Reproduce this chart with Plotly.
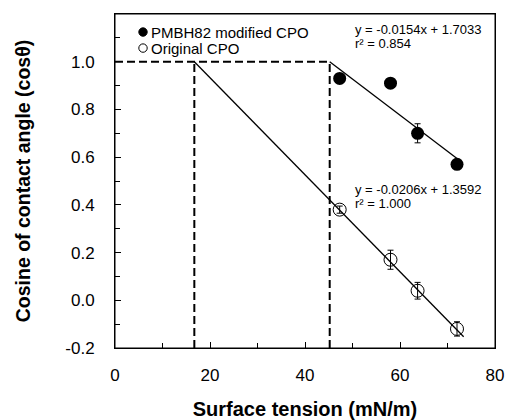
import plotly.graph_objects as go

# Data
tension = [47.3, 58.0, 63.7, 72.0]
cos_mod = [0.93, 0.91, 0.70, 0.57]
err_mod = [0.02, 0.015, 0.04, 0.015]
cos_orig = [0.38, 0.17, 0.04, -0.12]
err_orig = [0.015, 0.04, 0.035, 0.03]

slope_mod, icpt_mod = -0.0154, 1.7033
slope_orig, icpt_orig = -0.0206, 1.3592
gamma_c_mod = 45.2
gamma_c_orig = 16.7
fit_end_mod = 72.0
fit_end_orig = 73.4

series_names = ["PMBH82 modified CPO", "Original CPO"]
eq_mod = ["y = -0.0154x + 1.7033", "r\u00b2 = 0.854"]
eq_orig = ["y = -0.0206x + 1.3592", "r\u00b2 = 1.000"]

FONT = "Arial, Liberation Sans, Helvetica, sans-serif"

fig = go.Figure()

dash_style = dict(color="black", width=2, dash="8px,4px")
fig.add_trace(go.Scatter(x=[0, gamma_c_mod], y=[1.0, 1.0], mode="lines",
                         line=dash_style, showlegend=False, hoverinfo="skip"))
for gc in [gamma_c_orig, gamma_c_mod]:
    fig.add_trace(go.Scatter(x=[gc, gc], y=[-0.2, 1.0], mode="lines",
                             line=dash_style, showlegend=False, hoverinfo="skip"))

# fit lines
fig.add_trace(go.Scatter(x=[gamma_c_mod, fit_end_mod],
                         y=[1.0, slope_mod * fit_end_mod + icpt_mod],
                         mode="lines", line=dict(color="black", width=1.3), showlegend=False))
fig.add_trace(go.Scatter(x=[gamma_c_orig, fit_end_orig],
                         y=[1.0, slope_orig * fit_end_orig + icpt_orig],
                         mode="lines", line=dict(color="black", width=1.3), showlegend=False))

# data points
fig.add_trace(go.Scatter(x=tension, y=cos_mod, mode="markers", name=series_names[0],
                         marker=dict(symbol="circle", size=13, color="black"),
                         error_y=dict(type="data", array=err_mod, color="black", thickness=1, width=3),
                         showlegend=False))
fig.add_trace(go.Scatter(x=tension, y=cos_orig, mode="markers", name=series_names[1],
                         marker=dict(symbol="circle-open", size=13, color="black", line=dict(width=1)),
                         error_y=dict(type="data", array=err_orig, color="black", thickness=1, width=3),
                         showlegend=False))

# equations
for txt, yy in [(eq_mod[0], 1.137), (eq_mod[1], 1.078), (eq_orig[0], 0.466), (eq_orig[1], 0.404)]:
    fig.add_annotation(x=50.0, y=yy, xref="x", yref="y", text=txt, showarrow=False,
                       xanchor="left", yanchor="middle", font=dict(size=13, color="black", family=FONT))

# manual legend
leg_rows = [(0.946, "black"), (0.898, "white")]
for (py, fillc), name in zip(leg_rows, series_names):
    fig.add_shape(type="circle", xref="paper", yref="paper", xsizemode="pixel", ysizemode="pixel",
                  xanchor=0.0737, yanchor=py, x0=-4.2, x1=4.2, y0=-4.2, y1=4.2,
                  fillcolor=fillc, line=dict(color="black", width=1))
    fig.add_annotation(x=0.0895, y=py, xref="paper", yref="paper", text=name, showarrow=False,
                       xanchor="left", yanchor="middle", font=dict(size=15, color="black", family=FONT))

# plot frame
fig.add_shape(type="rect", xref="paper", yref="paper", x0=0, x1=1, y0=0, y1=1,
              line=dict(color="black", width=1), fillcolor="rgba(0,0,0,0)", layer="above")

axis_common = dict(showgrid=False, zeroline=False, showline=True, linecolor="black", linewidth=1,
                   mirror=True, ticks="inside", ticklen=6, tickcolor="black",
                   tickfont=dict(size=17, color="black", family=FONT))

fig.update_xaxes(range=[0, 80], tick0=0, dtick=20, ticklabelstandoff=12,
                 minor=dict(ticks="inside", ticklen=5, dtick=10, tickcolor="black"),
                 title=dict(text="<b>Surface tension (mN/m)</b>", font=dict(size=20, color="black", family=FONT), standoff=18),
                 **axis_common)
fig.update_yaxes(range=[-0.2, 1.2], tickvals=[-0.2, 0, 0.2, 0.4, 0.6, 0.8, 1.0],
                 ticktext=["-0.2", "0.0", "0.2", "0.4", "0.6", "0.8", "1.0"], ticklabelstandoff=16,
                 minor=dict(ticks="inside", ticklen=5, tickvals=[-0.1, 0.1, 0.3, 0.5, 0.7, 0.9, 1.1], tickcolor="black"),
                 title=dict(text="<b>Cosine of contact angle (cos\u03b8)</b>", font=dict(size=19.5, color="black", family=FONT), standoff=29),
                 **axis_common)

fig.update_layout(width=506, height=420, margin=dict(l=115, r=11, t=14, b=72, autoexpand=False),
                  plot_bgcolor="white", paper_bgcolor="white",
                  font=dict(family=FONT, color="black"), showlegend=False)

fig.write_html("out.html", config={"displayModeBar": False},
               post_script="document.body.style.margin='0px';")
